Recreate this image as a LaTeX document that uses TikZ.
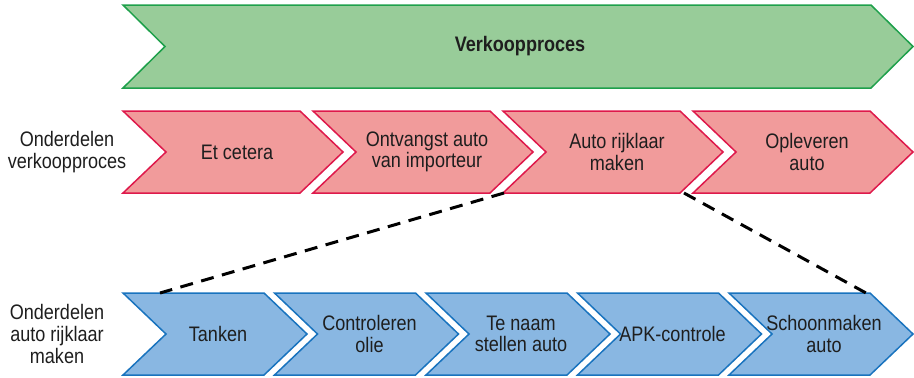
\documentclass[tikz,border=0pt]{standalone}
\usepackage{fontspec}
\setmainfont{Liberation Sans}[FakeStretch=0.86]
\usetikzlibrary{calc}
\definecolor{gfill}{RGB}{152,204,153}
\definecolor{gline}{RGB}{30,160,75}
\definecolor{rfill}{RGB}{241,155,155}
\definecolor{rline}{RGB}{222,25,75}
\definecolor{bfill}{RGB}{137,183,226}
\definecolor{bline}{RGB}{25,115,190}
\definecolor{txt}{RGB}{30,30,30}
\tikzset{
  greenbox/.style={fill=gfill,draw=gline,line width=0.75pt,line join=miter},
  redbox/.style={fill=rfill,draw=rline,line width=0.75pt,line join=miter},
  bluebox/.style={fill=bfill,draw=bline,line width=0.75pt,line join=miter},
  lbl/.style={align=center,text=txt,inner sep=0pt,font=\fontsize{10.5}{10.8}\selectfont},
  zoomline/.style={black,line width=1.5pt,dash pattern=on 6.5pt off 4.3pt}
}
% #1 style, #2 left x, #3 top y, #4 width, #5 height, #6 point depth
\newcommand\chevshape[6]{%
  \path[#1] (#2,#3) -- ({#2+#4-#6},#3) -- ({#2+#4},{#3+#5/2}) -- ({#2+#4-#6},{#3+#5})
    -- (#2,{#3+#5}) -- ({#2+#6},{#3+#5/2}) -- cycle;}
\begin{document}
\begin{tikzpicture}[x=0.5pt,y=-0.5pt]
\useasboundingbox (0,0) rectangle (914,377);
% top green
\chevshape{greenbox}{123}{5}{790}{83}{42}
\node[lbl,font=\fontsize{10.5}{10.8}\selectfont\bfseries] (verk) at (520,46.5) {Verkoopproces};
% red row
\foreach \i/\t [count=\k] in {0/{Et cetera},1/{Ontvangst auto\\van importeur},2/{Auto rijklaar\\maken},3/{Opleveren\\auto}}{
  \chevshape{redbox}{123+190*\i}{111}{220}{82}{43}
  \node[lbl] (r\k) at ({123+190*\i+114},152) {\t};
}
\node[lbl] (rlab) at (67,152) {Onderdelen\\verkoopproces};
% blue row
\foreach \i/\t [count=\k] in {0/{Tanken},1/{Controleren\\olie},2/{Te naam\\stellen auto},3/{APK-controle},4/{Schoonmaken\\auto}}{
  \chevshape{bluebox}{123+151.5*\i}{293}{184}{82}{43}
  \node[lbl] (b\k) at ({123+151.5*\i+95},334) {\t};
}
\node[lbl] (blab) at (57,334) {Onderdelen\\auto rijklaar\\maken};
% connectors
\coordinate (r3bl) at (504,193);
\coordinate (r3br) at (684,193);
\coordinate (b1top) at (160,293);
\coordinate (b5top) at (866,293);
\draw[zoomline] (r3bl) -- (b1top);
\draw[zoomline] (r3br) -- (b5top);
\end{tikzpicture}
\end{document}
